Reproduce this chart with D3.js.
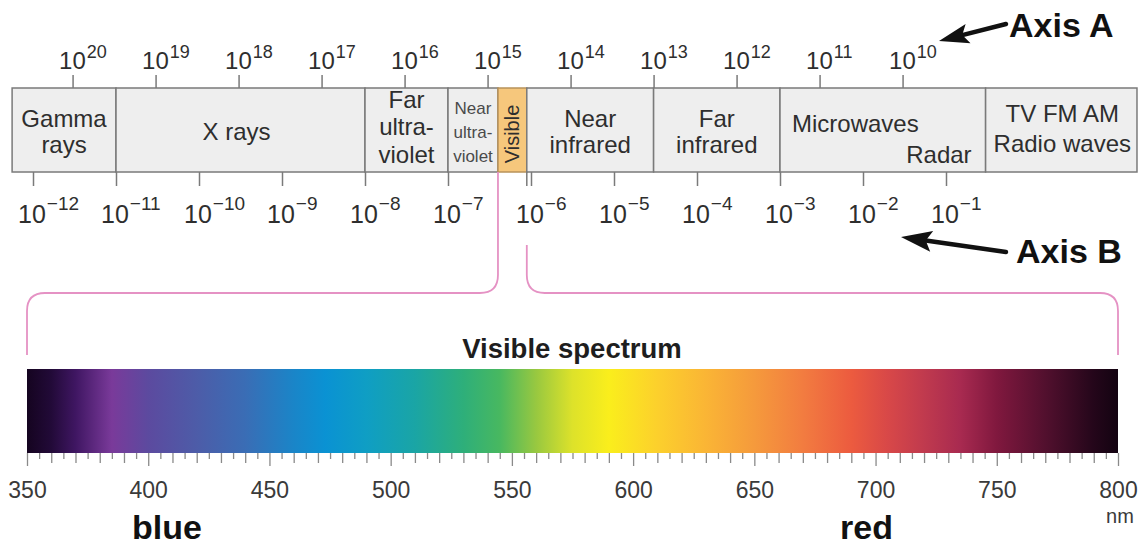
<!DOCTYPE html>
<html><head><meta charset="utf-8">
<script src="https://cdn.jsdelivr.net/npm/d3@7"></script>
<style>
html,body{margin:0;padding:0;background:#fff;}
svg{display:block;}
text{font-family:"Liberation Sans",Arial,Helvetica,sans-serif;}
</style></head>
<body>
<svg id="chart" width="1145" height="548"></svg>
<script>
// ---------- DATA ----------
const freqExponents = [20,19,18,17,16,15,14,13,12,11,10];        // Axis A (Hz)
const waveExponents = [-12,-11,-10,-9,-8,-7,-6,-5,-4,-3,-2,-1];    // Axis B (m)
const bandNames = ["Gamma rays","X rays","Far ultraviolet","Near ultraviolet","Visible","Near infrared","Far infrared","Microwaves","TV FM AM Radio waves"];
const bandEdges = [5.6e-13, 1e-11, 1e-8, 1e-7, 4e-7, 8.9e-7, 3e-5, 1e-3, 3e-1, 20]; // metres
const bandLines = [["Gamma","rays"],["X rays"],["Far","ultra-","violet"],["Near","ultra-","violet"],["Visible"],["Near","infrared"],["Far","infrared"],["Microwaves","Radar"],["TV FM AM","Radio waves"]];
const spectrumNm = [350,360,370,385,400,420,440,460,473,490,510,530,545,560,575,590,610,630,650,670,690,705,720,735,750,770,790,800];
const spectrumColors = ["#150420","#220a38","#3f1662","#7a3a9a","#5c4a9f","#4d5ca8","#3a6db5","#1a85c8","#0a92d3","#0f9ec4","#1aa5a5","#2eaf7a","#48b860","#98c840","#dde22a","#faee1c","#fcd02c","#fab535","#f59a3c","#f27c40","#ec5b3f","#d84848","#c03a4e","#a82a50","#80183e","#52102e","#24061a","#130311"];
const spectrumTicks = d3.range(350, 801, 5);
const spectrumLabels = [350,400,450,500,550,600,650,700,750,800];
const C = 2.998e8;

// ---------- LAYOUT ----------
const svg = d3.select("#chart");
const boxTop = 88, boxBottom = 172;
const xW = d3.scaleLog().domain([1e-12, 1e-1]).range([33, 946]);
const xF = d3.scaleLog().domain([C/1e-12, C/1e-1]).range([33, 946]);
const xS = d3.scaleLinear().domain([350, 800]).range([27, 1118]);
const specTop = 369, specBottom = 453;
const grayText = "#2e2e2e";
const lineGray = "#7a7a7a";

// ---------- BAND BOX ----------
const bandG = svg.append("g");
bandNames.forEach((name, i) => {
  const x0 = xW(bandEdges[i]), x1 = xW(bandEdges[i+1]);
  const vis = name === "Visible";
  bandG.append("rect")
    .attr("x", x0).attr("y", boxTop).attr("width", x1 - x0).attr("height", boxBottom - boxTop)
    .attr("fill", vis ? "#f6c77c" : "#eeeeee")
    .attr("stroke", vis ? "#b8925a" : lineGray).attr("stroke-width", 1.5);
});

// band labels
const bandStyle = {
  "Gamma rays": {fs: 24, lh: 26, mid: 131.4},
  "X rays": {fs: 24, lh: 26, mid: 131.4},
  "Far ultraviolet": {fs: 24, lh: 27.5, mid: 126.4},
  "Near ultraviolet": {fs: 17, lh: 24, mid: 132, color: "#4a4a4a"},
  "Near infrared": {fs: 24, lh: 26, mid: 131.4},
  "Far infrared": {fs: 24, lh: 26, mid: 131.4},
  "TV FM AM Radio waves": {fs: 24, lh: 30, mid: 128.4}
};
bandNames.forEach((name, i) => {
  const x0 = xW(bandEdges[i]), x1 = xW(bandEdges[i+1]);
  const cx = (x0 + x1) / 2;
  const lines = bandLines[i];
  if (name === "Visible") {
    bandG.append("text")
      .attr("transform", `translate(${cx + 7},${(boxTop+boxBottom)/2 + 4}) rotate(-90)`)
      .attr("text-anchor", "middle").attr("font-size", 20).attr("fill", grayText)
      .text(lines[0]);
    return;
  }
  if (name === "Microwaves") {
    bandG.append("text").attr("x", x0 + 12).attr("y", 132).attr("font-size", 24).attr("fill", grayText).text(lines[0]);
    bandG.append("text").attr("x", x1 - 14).attr("y", 163).attr("text-anchor", "end").attr("font-size", 24).attr("fill", grayText).text(lines[1]);
    return;
  }
  const st = bandStyle[name];
  const n = lines.length;
  lines.forEach((ln, j) => {
    bandG.append("text")
      .attr("x", name === "X rays" ? cx - 4 : cx + (name === "TV FM AM Radio waves" ? 1 : 0))
      .attr("y", st.mid + (j - (n - 1) / 2) * st.lh + st.fs * 0.36)
      .attr("text-anchor", "middle").attr("font-size", st.fs)
      .attr("fill", st.color || grayText).text(ln);
  });
});

// ---------- AXIS A (top, frequency) ----------
const axA = svg.append("g").attr("transform", `translate(0,${boxTop})`)
  .call(d3.axisTop(xF).tickValues(freqExponents.map(e => Math.pow(10, e))).tickSize(13).tickFormat(() => ""));
axA.select(".domain").remove();
axA.selectAll(".tick line").attr("stroke", lineGray).attr("stroke-width", 1.5);
axA.selectAll(".tick text").remove();
freqExponents.forEach(e => {
  const t = svg.append("text").attr("x", xF(Math.pow(10, e)) - 13.5).attr("y", 69)
    .attr("font-size", 24).attr("fill", grayText);
  t.append("tspan").text("10");
  t.append("tspan").attr("dy", -11).attr("dx", 1).attr("font-size", 18).text(String(e));
});

// ---------- AXIS B (bottom, wavelength) ----------
const axB = svg.append("g").attr("transform", `translate(0,${boxBottom})`)
  .call(d3.axisBottom(xW).tickValues(waveExponents.map(e => Math.pow(10, e))).tickSize(14).tickFormat(() => ""));
axB.select(".domain").remove();
axB.selectAll(".tick line").attr("stroke", lineGray).attr("stroke-width", 1.5);
axB.selectAll(".tick text").remove();
waveExponents.forEach(e => {
  const t = svg.append("text").attr("x", xW(Math.pow(10, e)) - 15).attr("y", 223)
    .attr("font-size", 25).attr("fill", grayText);
  t.append("tspan").text("10");
  t.append("tspan").attr("dy", -13).attr("dx", 1).attr("font-size", 19).text("\u2212" + Math.abs(e));
});
// visible right edge extension
const visR = xW(bandEdges[5]);
svg.append("line").attr("x1", visR).attr("x2", visR).attr("y1", boxBottom).attr("y2", boxBottom + 14)
  .attr("stroke", lineGray).attr("stroke-width", 1.5);

// ---------- PINK BRACKET ----------
const visL = xW(bandEdges[4]);
const by = 293, r = 18, endY = 355;
const sL = xS(350), sR = xS(800);
const pink = "#e592c4";
svg.append("path")
  .attr("d", `M${visL},${boxBottom} L${visL},${by - r} Q${visL},${by} ${visL - r},${by} L${sL + r},${by} Q${sL},${by} ${sL},${by + r} L${sL},${endY}`)
  .attr("fill", "none").attr("stroke", pink).attr("stroke-width", 1.8);
svg.append("path")
  .attr("d", `M${visR},245 L${visR},${by - r} Q${visR},${by} ${visR + r},${by} L${sR - r},${by} Q${sR},${by} ${sR},${by + r} L${sR},${endY}`)
  .attr("fill", "none").attr("stroke", pink).attr("stroke-width", 1.8);

// ---------- VISIBLE SPECTRUM ----------
svg.append("text").attr("x", 572).attr("y", 358).attr("text-anchor", "middle")
  .attr("font-size", 27.5).attr("font-weight", "bold").attr("fill", "#1e1e1e").text("Visible spectrum");

const defs = svg.append("defs");
const grad = defs.append("linearGradient").attr("id", "spec")
  .attr("gradientUnits", "userSpaceOnUse")
  .attr("x1", xS(350)).attr("x2", xS(800)).attr("y1", 0).attr("y2", 0);
spectrumNm.forEach((nm, i) => {
  grad.append("stop").attr("offset", (xS(nm) - xS(350)) / (xS(800) - xS(350)))
    .attr("stop-color", spectrumColors[i]);
});
svg.append("rect").attr("x", xS(350)).attr("y", specTop).attr("width", xS(800) - xS(350))
  .attr("height", specBottom - specTop).attr("fill", "url(#spec)");

const axS = svg.append("g").attr("transform", `translate(0,${specBottom})`)
  .call(d3.axisBottom(xS).tickValues(spectrumTicks).tickSize(6)
    .tickFormat(d => spectrumLabels.includes(d) ? String(d) : ""));
axS.select(".domain").remove();
axS.selectAll(".tick line")
  .attr("stroke", "#8a8a8a").attr("stroke-width", 1.3)
  .attr("y2", d => d % 50 === 0 ? 13 : (d % 10 === 0 ? 10 : 6));
axS.selectAll(".tick text")
  .attr("y", 45).attr("dy", 0).attr("font-size", 23).attr("fill", "#3a3a3a")
  .attr("font-family", "'Liberation Sans',Arial,sans-serif");
svg.append("text").attr("x", xS(800) + 2).attr("y", 523).attr("text-anchor", "middle")
  .attr("font-size", 20).attr("fill", "#3a3a3a").text("nm");

// ---------- ANNOTATIONS ----------
const boldFont = "'Open Sans',Lato,sans-serif";
svg.append("text").attr("x", 132).attr("y", 539).attr("font-family", boldFont)
  .attr("font-weight", "bold").attr("font-size", 34).attr("fill", "#111").text("blue");
svg.append("text").attr("x", 840).attr("y", 539).attr("font-family", boldFont)
  .attr("font-weight", "bold").attr("font-size", 34).attr("fill", "#111").text("red");
svg.append("text").attr("x", 1009).attr("y", 37).attr("font-family", boldFont)
  .attr("font-weight", "bold").attr("font-size", 34).attr("fill", "#111").text("Axis A");
svg.append("text").attr("x", 1016).attr("y", 263).attr("font-family", boldFont)
  .attr("font-weight", "bold").attr("font-size", 34).attr("fill", "#111").text("Axis B");

function arrow(tail, tip, L, W) {
  const dx = tip[0] - tail[0], dy = tip[1] - tail[1];
  const len = Math.hypot(dx, dy);
  const ux = dx / len, uy = dy / len, nx = -uy, ny = ux;
  const bx = tip[0] - ux * L, by2 = tip[1] - uy * L;
  const notch = [bx + ux * 6, by2 + uy * 6];
  svg.append("line").attr("x1", tail[0]).attr("y1", tail[1]).attr("x2", notch[0]).attr("y2", notch[1])
    .attr("stroke", "#111").attr("stroke-width", 4.5).attr("stroke-linecap", "round");
  svg.append("path")
    .attr("d", `M${tip[0]},${tip[1]} L${bx + nx * W},${by2 + ny * W} L${notch[0]},${notch[1]} L${bx - nx * W},${by2 - ny * W} Z`)
    .attr("fill", "#111");
}
arrow([1006, 24], [939, 41], 30, 10);
arrow([1006, 252], [901, 237], 31, 10.5);
</script>
</body></html>
